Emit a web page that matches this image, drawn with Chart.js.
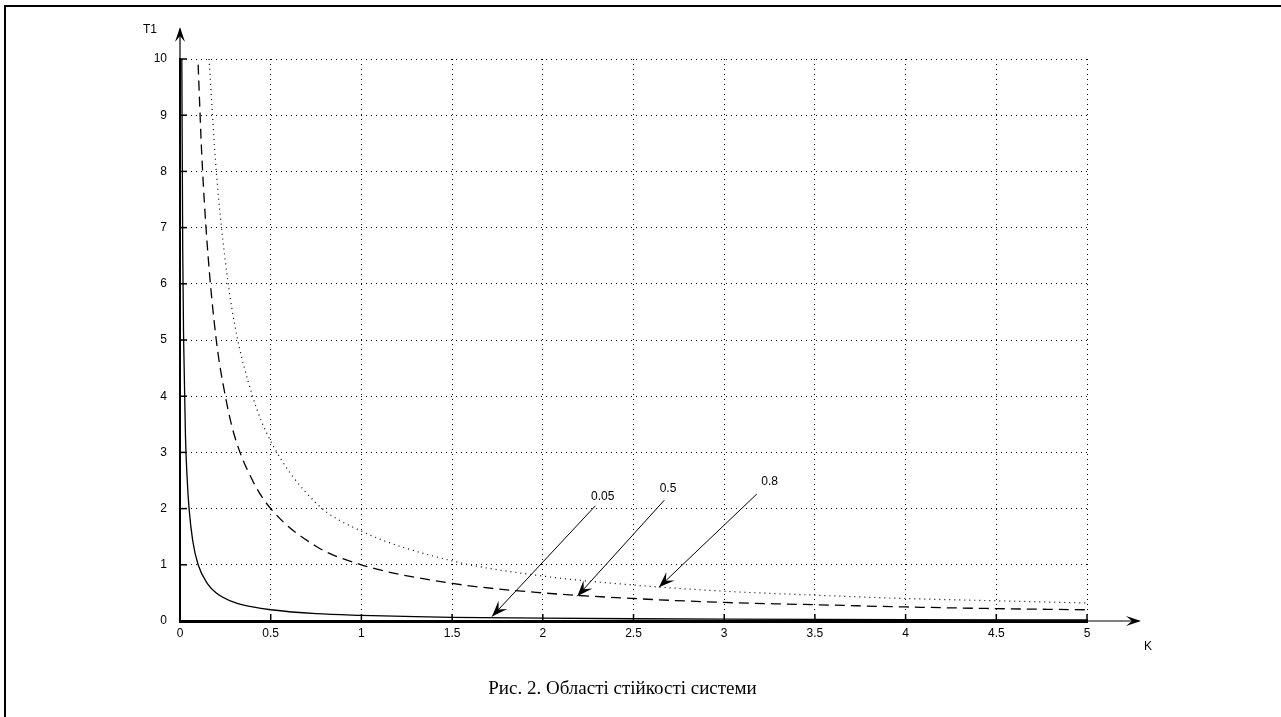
<!DOCTYPE html>
<html>
<head>
<meta charset="utf-8">
<script src="https://cdn.jsdelivr.net/npm/chart.js@4"></script>
<style>
  body { margin: 0; background: #fff; }
  #wrap { position: relative; width: 1281px; height: 717px; overflow: hidden; }
  #frame { position: absolute; left: 4px; top: 5px; width: 1290px; height: 720px;
           border-top: 2px solid #000; border-left: 2px solid #000; }
  canvas { position: absolute; left: 0; top: 0; }
  #caption { position: absolute; left: 0; width: 1245px; top: 677px; text-align: center;
             font-family: "Liberation Serif", "Times New Roman", serif; font-size: 19px; color: #000; }
</style>
</head>
<body>
<div id="wrap">
  <div id="frame"></div>
  <canvas id="stab" width="1281" height="717"></canvas>
  <div id="caption">Рис. 2. Області стійкості системи</div>
</div>
<script>
// curve 0.05 (solid)
const k005 = [0.01, 0.015, 0.02, 0.03, 0.04, 0.05, 0.07, 0.1, 0.15, 0.2, 0.3, 0.4, 0.5, 0.75, 1, 1.3, 1.5, 2, 2.5, 3, 4, 5];
const t005 = [10, 6.6, 5, 3.3, 2.5, 2, 1.43, 1, 0.67, 0.5, 0.33, 0.25, 0.2, 0.13, 0.1, 0.077, 0.066, 0.05, 0.04, 0.033, 0.025, 0.02];
// curve 0.5 (dashed)
const k05 = [0.1, 0.12, 0.15, 0.2, 0.25, 0.3, 0.4, 0.5, 0.75, 1, 1.5, 2, 2.5, 3, 3.5, 4, 4.5, 5];
const t05 = [9.9, 8.3, 6.7, 5, 4, 3.3, 2.5, 2, 1.33, 1, 0.67, 0.5, 0.4, 0.33, 0.29, 0.25, 0.22, 0.2];
// curve 0.8 (dotted)
const k08 = [0.16, 0.2, 0.25, 0.3, 0.4, 0.5, 0.75, 1, 1.5, 2, 2.5, 3, 3.5, 4, 4.5, 5];
const t08 = [10, 8, 6.4, 5.3, 4, 3.2, 2.1, 1.6, 1.07, 0.8, 0.64, 0.53, 0.46, 0.4, 0.36, 0.32];

const curveLabels = ['0.05', '0.5', '0.8'];
const xTicks = [0, 0.5, 1, 1.5, 2, 2.5, 3, 3.5, 4, 4.5, 5];
const yTicks = [0, 1, 2, 3, 4, 5, 6, 7, 8, 9, 10];

const pts = (xs, ys) => xs.map((x, i) => ({x: x, y: ys[i]}));

// label text pos, arrow start, arrow tip (data units)
const notes = [
  {text: curveLabels[0], lx: 2.33, ly: 2.21, sx: 2.29, sy: 2.05, ex: 1.72, ey: 0.08},
  {text: curveLabels[1], lx: 2.69, ly: 2.35, sx: 2.67, sy: 2.15, ex: 2.19, ey: 0.44},
  {text: curveLabels[2], lx: 3.25, ly: 2.47, sx: 3.18, sy: 2.26, ex: 2.64, ey: 0.6}
];

function arrowHead(ctx, x1, y1, x2, y2, len, wid) {
  const a = Math.atan2(y2 - y1, x2 - x1);
  ctx.beginPath();
  ctx.moveTo(x2, y2);
  ctx.lineTo(x2 - len * Math.cos(a) + wid * Math.sin(a), y2 - len * Math.sin(a) - wid * Math.cos(a));
  ctx.lineTo(x2 - len * 0.6 * Math.cos(a), y2 - len * 0.6 * Math.sin(a));
  ctx.lineTo(x2 - len * Math.cos(a) - wid * Math.sin(a), y2 - len * Math.sin(a) + wid * Math.cos(a));
  ctx.closePath();
  ctx.fill();
}

const extras = {
  id: 'extras',
  afterDraw(chart) {
    const ctx = chart.ctx;
    const xs = chart.scales.x, ys = chart.scales.y;
    const x0 = xs.getPixelForValue(0), y0 = ys.getPixelForValue(0);
    ctx.save();
    ctx.strokeStyle = '#000';
    ctx.fillStyle = '#000';
    ctx.setLineDash([]);
    // inward ticks
    ctx.lineWidth = 1.5;
    xTicks.forEach(v => {
      const p = xs.getPixelForValue(v);
      ctx.beginPath(); ctx.moveTo(p, y0); ctx.lineTo(p, y0 - 7); ctx.stroke();
    });
    yTicks.forEach(v => {
      const p = ys.getPixelForValue(v);
      ctx.beginPath(); ctx.moveTo(x0, p); ctx.lineTo(x0 + 7, p); ctx.stroke();
    });
    // axis arrows
    ctx.lineWidth = 1.2;
    const xr = xs.getPixelForValue(5);
    ctx.beginPath(); ctx.moveTo(xr, y0); ctx.lineTo(xr + 52, y0); ctx.stroke();
    arrowHead(ctx, xr, y0, xr + 54, y0, 15, 5);
    const yt = ys.getPixelForValue(10);
    ctx.beginPath(); ctx.moveTo(x0, yt); ctx.lineTo(x0, yt - 30); ctx.stroke();
    arrowHead(ctx, x0, yt, x0, yt - 32, 15, 5);
    ctx.font = '12px "Liberation Sans", Arial, sans-serif';
    ctx.textAlign = 'center';
    ctx.textBaseline = 'middle';
    ctx.fillText('T1', x0 - 30, yt - 29);
    ctx.fillText('K', xr + 61, y0 + 26);
    // curve notes
    notes.forEach(n => {
      const sx = xs.getPixelForValue(n.sx), sy = ys.getPixelForValue(n.sy);
      const ex = xs.getPixelForValue(n.ex), ey = ys.getPixelForValue(n.ey);
      ctx.lineWidth = 1;
      ctx.beginPath(); ctx.moveTo(sx, sy); ctx.lineTo(ex, ey); ctx.stroke();
      arrowHead(ctx, sx, sy, ex, ey, 16, 6);
      ctx.fillText(n.text, xs.getPixelForValue(n.lx), ys.getPixelForValue(n.ly));
    });
    ctx.restore();
  }
};

new Chart(document.getElementById('stab').getContext('2d'), {
  type: 'scatter',
  data: {
    datasets: [
      {label: curveLabels[0], data: pts(k005, t005), showLine: true, borderColor: '#000',
       borderWidth: 1.3, pointRadius: 0, cubicInterpolationMode: 'monotone'},
      {label: curveLabels[1], data: pts(k05, t05), showLine: true, borderColor: '#000',
       borderWidth: 1.3, borderDash: [10, 6], pointRadius: 0, cubicInterpolationMode: 'monotone'},
      {label: curveLabels[2], data: pts(k08, t08), showLine: true, borderColor: '#000',
       borderWidth: 1.2, borderDash: [1, 4], pointRadius: 0, cubicInterpolationMode: 'monotone'}
    ]
  },
  options: {
    responsive: false,
    animation: false,
    layout: {padding: {left: 0, top: 59, right: 194, bottom: 0}},
    plugins: {legend: {display: false}, tooltip: {enabled: false}},
    scales: {
      x: {
        type: 'linear', min: 0, max: 5,
        afterBuildTicks: s => { s.ticks = xTicks.map(v => ({value: v})); },
        afterFit: s => { s.height = 96; },
        ticks: {color: '#000', padding: 5, maxRotation: 0, callback: v => String(v),
                font: {family: '"Liberation Sans", Arial, sans-serif', size: 12}},
        grid: {color: '#000', lineWidth: 1, drawTicks: false},
        border: {display: true, color: '#000', width: 3, dash: [1, 4]}
      },
      y: {
        type: 'linear', min: 0, max: 10,
        afterBuildTicks: s => { s.ticks = yTicks.map(v => ({value: v})); },
        afterFit: s => { s.width = 180; },
        ticks: {color: '#000', padding: 13, callback: v => String(v),
                font: {family: '"Liberation Sans", Arial, sans-serif', size: 12}},
        grid: {color: '#000', lineWidth: 1, drawTicks: false},
        border: {display: true, color: '#000', width: 2, dash: [1, 4]}
      }
    }
  },
  plugins: [extras]
});
</script>
</body>
</html>
